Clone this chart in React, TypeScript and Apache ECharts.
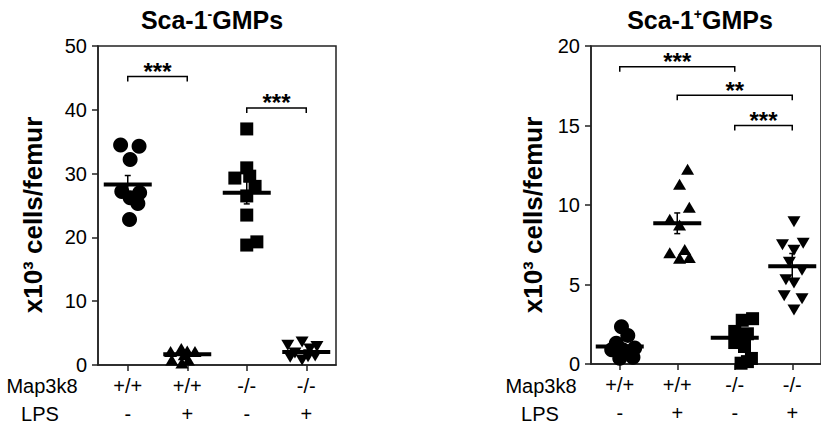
import React, { useEffect, useRef } from "react";
import * as echarts from "echarts";

// ---------- data ----------
const map3k8Labels = ["+/+", "+/+", "-/-", "-/-"];
const lpsLabels = ["-", "+", "-", "+"];

// Left panel: Sca-1- GMPs (x10^3 cells/femur)
const leftWtCtrl = [34.5, 34.3, 32.2, 27.2, 27.0, 26.2, 25.3, 22.8];
const leftWtCtrlJitter = [-0.12, 0.19, 0.04, -0.1, 0.2, 0.04, 0.17, 0.03];
const leftWtLps = [2.1, 2.6, 2.2, 2.1, 0.8, 0.3, 0.8, 1.6];
const leftWtLpsJitter = [-0.28, -0.1, 0.0, 0.13, -0.26, -0.09, 0.02, -0.05];
const leftKoCtrl = [37.0, 30.9, 29.6, 29.3, 28.0, 26.5, 23.5, 19.3, 18.8];
const leftKoCtrlJitter = [0, 0, 0.05, -0.2, 0.14, 0, 0, 0.17, 0];
const leftKoLps = [3.1, 3.6, 2.9, 1.9, 1.3, 0.8, 2.5, 1.2, 1.4];
const leftKoLpsJitter = [-0.31, -0.07, 0.18, -0.19, 0.03, -0.07, 0.06, -0.27, 0.15];
const leftMeans = [28.3, 1.7, 27.0, 2.05];
const leftSems = [1.4, 0.3, 1.75, 0.3];
const leftBrackets: [number, number, number, string][] = [
  [0, 1, 45.2, "***"],
  [2, 3, 40.3, "***"],
];

// Right panel: Sca-1+ GMPs
const rightWtCtrl = [2.35, 1.8, 1.3, 1.0, 0.9, 0.9, 0.36, 0.42, 0.75, 1.15];
const rightWtCtrlJitter = [0.03, 0.14, -0.06, 0.26, -0.14, 0.05, 0.0, 0.23, 0.1, -0.05];
const rightWtLps = [12.25, 11.3, 9.86, 9.1, 8.74, 7.2, 7.0, 6.65, 6.7];
const rightWtLpsJitter = [0.18, 0.04, 0.21, -0.13, 0.04, 0.13, -0.13, 0.04, 0.21];
const rightKoCtrl = [2.85, 2.75, 2.05, 1.9, 1.35, 1.1, 0.35, 0.15, 0.05];
const rightKoCtrlJitter = [0.31, 0.13, 0.0, 0.22, 0.0, 0.17, 0.29, 0.22, 0.11];
const rightKoLps = [8.95, 7.5, 7.6, 7.15, 6.4, 5.9, 5.3, 5.1, 4.3, 4.1, 3.4];
const rightKoLpsJitter = [0.03, -0.17, 0.19, 0.03, -0.05, 0.17, -0.11, 0.03, -0.14, 0.17, 0.03];
const rightMeans = [1.1, 8.85, 1.65, 6.15];
const rightSems = [0.2, 0.65, 0.25, 0.8];
const rightBrackets: [number, number, number, string][] = [
  [0, 2, 18.7, "***"],
  [1, 3, 16.9, "**"],
  [2, 3, 15.0, "***"],
];

const leftTicks = { min: 0, max: 50, interval: 10 };
const rightTicks = { min: 0, max: 20, interval: 5 };

// ---------- styling ----------
const FONT = '"Liberation Sans", Arial, Helvetica, sans-serif';
const INK = "#000";
const AXIS = "#222";

function points(vals: number[], jit: number[], cat: number) {
  return vals.map((v, i) => [cat + jit[i], v]);
}

function groupSeries(xIdx: number, yIdx: number, groups: { vals: number[]; jit: number[] }[]) {
  const symbols: any[] = [
    { symbol: "circle", size: 15, rotate: 0 },
    { symbol: "triangle", size: [13, 11], rotate: 0 },
    { symbol: "rect", size: 13, rotate: 0 },
    { symbol: "triangle", size: [13, 11], rotate: 180 },
  ];
  return groups.map((g, c) => ({
    type: "scatter",
    xAxisIndex: xIdx,
    yAxisIndex: yIdx,
    symbol: symbols[c].symbol,
    symbolSize: symbols[c].size,
    symbolRotate: symbols[c].rotate,
    itemStyle: { color: INK, opacity: 1 },
    data: points(g.vals, g.jit, c),
    z: 2,
    silent: true,
  }));
}

function meanSeries(xIdx: number, yIdx: number, means: number[]) {
  return {
    type: "scatter",
    xAxisIndex: xIdx,
    yAxisIndex: yIdx,
    symbol: "rect",
    symbolSize: [48, 4],
    itemStyle: { color: INK, opacity: 1 },
    data: means.map((m, i) => [i, m]),
    z: 4,
    silent: true,
  };
}

function errorSeries(xIdx: number, yIdx: number, means: number[], sems: number[]) {
  return {
    type: "custom",
    xAxisIndex: xIdx,
    yAxisIndex: yIdx,
    z: 5,
    silent: true,
    data: means.map((m, i) => [i, m, sems[i]]),
    encode: { x: 0, y: 1 },
    renderItem: (params: any, api: any) => {
      const x = api.value(0);
      const m = api.value(1);
      const s = api.value(2);
      const top = api.coord([x, m + s]);
      const bot = api.coord([x, m - s]);
      const cw = 3;
      const st = { stroke: INK, lineWidth: 1.5 };
      return {
        type: "group",
        children: [
          { type: "line", shape: { x1: top[0], y1: top[1], x2: bot[0], y2: bot[1] }, style: st },
          { type: "line", shape: { x1: top[0] - cw, y1: top[1], x2: top[0] + cw, y2: top[1] }, style: st },
          { type: "line", shape: { x1: bot[0] - cw, y1: bot[1], x2: bot[0] + cw, y2: bot[1] }, style: st },
        ],
      };
    },
  };
}

function bracketSeries(xIdx: number, yIdx: number, brackets: [number, number, number, string][]) {
  return {
    type: "custom",
    xAxisIndex: xIdx,
    yAxisIndex: yIdx,
    z: 6,
    silent: true,
    data: brackets.map((b) => [b[0], b[1], b[2]]),
    encode: { x: [0, 1], y: 2 },
    renderItem: (params: any, api: any) => {
      const a = api.coord([api.value(0), api.value(2)]);
      const b = api.coord([api.value(1), api.value(2)]);
      const label = brackets[params.dataIndex][3];
      return {
        type: "group",
        children: [
          {
            type: "polyline",
            shape: { points: [[a[0], a[1] + 5], [a[0], a[1]], [b[0], b[1]], [b[0], b[1] + 5]] },
            style: { stroke: INK, lineWidth: 1.5, fill: null },
          },
          {
            type: "text",
            x: (a[0] + b[0]) / 2,
            y: a[1] - 5,
            style: {
              text: label,
              fontSize: 24,
              fontWeight: "bold",
              fontFamily: FONT,
              fill: INK,
              textAlign: "center",
              textVerticalAlign: "middle",
            },
          },
        ],
      };
    },
  };
}

function catAxis(gridIndex: number) {
  return {
    type: "category",
    gridIndex,
    data: map3k8Labels,
    boundaryGap: true,
    axisLine: { show: true, onZero: false, lineStyle: { color: AXIS, width: 1.5 } },
    axisTick: { show: true, alignWithLabel: true, length: 6, lineStyle: { color: AXIS, width: 1.5 } },
    axisLabel: {
      color: INK,
      fontSize: 20,
      fontFamily: FONT,
      lineHeight: 28,
      margin: 7,
      formatter: (v: string, i: number) => `${v}\n${lpsLabels[i]}`,
    },
    splitLine: { show: false },
  };
}

function valXAxis(gridIndex: number) {
  return {
    type: "value",
    gridIndex,
    min: -0.5,
    max: 3.5,
    show: false,
    axisLine: { show: false, onZero: false },
    splitLine: { show: false },
  };
}

function valYAxis(gridIndex: number, xAxisIndex: number, t: { min: number; max: number; interval: number }) {
  return {
    type: "value",
    gridIndex,
    min: t.min,
    max: t.max,
    interval: t.interval,
    axisLine: { show: true, onZero: false, lineStyle: { color: AXIS, width: 1.5 } },
    axisTick: { show: true, length: 6, lineStyle: { color: AXIS, width: 1.5 } },
    axisLabel: { color: INK, fontSize: 20, fontFamily: FONT, margin: 11 },
    splitLine: { show: false },
  };
}

const rowLabel = (text: string, x: number, y: number) => ({
  type: "text",
  x,
  y,
  style: { text, fontSize: 20, fontFamily: FONT, fill: INK, textAlign: "center", textVerticalAlign: "middle" },
});

const yName = (x: number, y: number) => ({
  type: "text",
  x,
  y,
  rotation: Math.PI / 2,
  style: {
    text: "x10³ cells/femur",
    fontSize: 26,
    fontWeight: "bold",
    fontFamily: FONT,
    fill: INK,
    textAlign: "center",
    textVerticalAlign: "middle",
  },
});

const titleStyle = {
  fontSize: 25,
  fontWeight: "bold",
  fontFamily: FONT,
  color: INK,
  rich: {
    sup: { fontSize: 14, fontWeight: "bold", fontFamily: FONT, color: INK, verticalAlign: "top" },
    t: { fontSize: 25, fontWeight: "bold", fontFamily: FONT, color: INK },
  },
};

export default function App() {
  const ref = useRef<HTMLDivElement>(null);
  useEffect(() => {
    if (!ref.current) return;
    const chart = echarts.init(ref.current, null, { renderer: "svg" });
    chart.setOption({
      animation: false,
      backgroundColor: "#fff",
      title: [
        { text: "{t|Sca-1}{sup|-}{t|GMPs}", left: 212, top: 7, textAlign: "center", padding: 0, textStyle: titleStyle },
        { text: "{t|Sca-1}{sup|+}{t|GMPs}", left: 700, top: 7, textAlign: "center", padding: 0, textStyle: titleStyle },
      ],
      grid: [
        { left: 98, top: 46, width: 238, height: 319, show: true, borderColor: AXIS, borderWidth: 1.5, backgroundColor: "transparent" },
        { left: 591, top: 46, width: 231, height: 318, show: true, borderColor: AXIS, borderWidth: 1.5, backgroundColor: "transparent" },
      ],
      xAxis: [catAxis(0), valXAxis(0), catAxis(1), valXAxis(1)],
      yAxis: [valYAxis(0, 0, leftTicks), valYAxis(1, 2, rightTicks)],
      graphic: [
        yName(33, 215),
        yName(533, 215),
        rowLabel("Map3k8", 42, 386),
        rowLabel("LPS", 40, 414),
        rowLabel("Map3k8", 541, 386),
        rowLabel("LPS", 540, 414),
      ],
      series: [
        ...groupSeries(1, 0, [
          { vals: leftWtCtrl, jit: leftWtCtrlJitter },
          { vals: leftWtLps, jit: leftWtLpsJitter },
          { vals: leftKoCtrl, jit: leftKoCtrlJitter },
          { vals: leftKoLps, jit: leftKoLpsJitter },
        ]),
        meanSeries(1, 0, leftMeans),
        errorSeries(1, 0, leftMeans, leftSems),
        bracketSeries(1, 0, leftBrackets),
        ...groupSeries(3, 1, [
          { vals: rightWtCtrl, jit: rightWtCtrlJitter },
          { vals: rightWtLps, jit: rightWtLpsJitter },
          { vals: rightKoCtrl, jit: rightKoCtrlJitter },
          { vals: rightKoLps, jit: rightKoLpsJitter },
        ]),
        meanSeries(3, 1, rightMeans),
        errorSeries(3, 1, rightMeans, rightSems),
        bracketSeries(3, 1, rightBrackets),
      ],
    });
    return () => chart.dispose();
  }, []);
  return (
    <div
      ref={ref}
      style={{ position: "fixed", left: 0, top: 0, width: 821, height: 430, background: "#fff" }}
    />
  );
}
